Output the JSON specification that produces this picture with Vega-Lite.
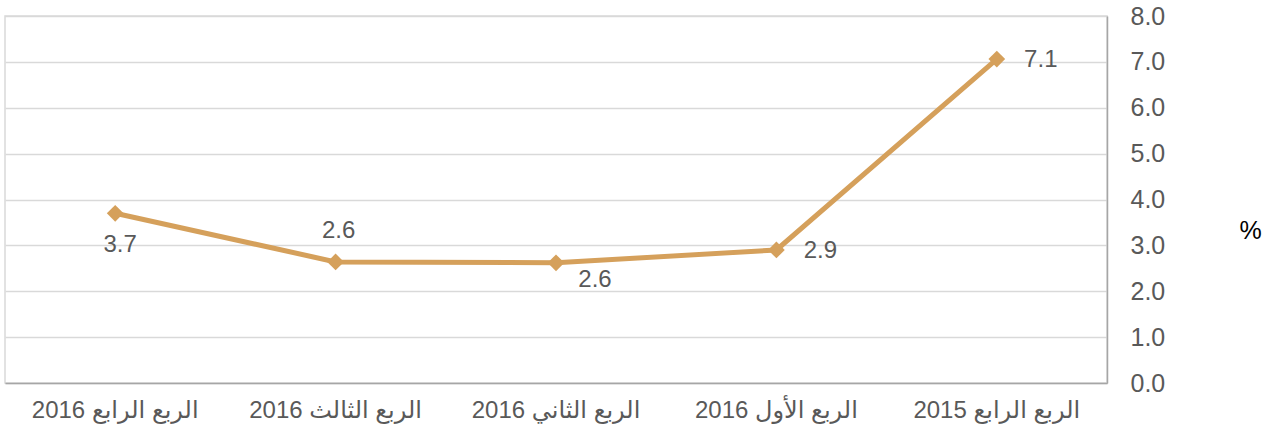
{
  "$schema": "https://vega.github.io/schema/vega-lite/v6.json",
  "autosize": {"type": "none"},
  "width": 1102,
  "height": 367,
  "padding": {"left": 5, "top": 16, "right": 165, "bottom": 55},
  "background": "white",
  "config": {
    "view": {"stroke": "#d9d9d9", "strokeWidth": 1.5},
    "axis": {"grid": false}
  },
  "data": {
    "values": [
      {"quarter": "الربع الرابع 2015", "value": 7.06, "label": "7.1"},
      {"quarter": "الربع الأول 2016", "value": 2.9, "label": "2.9"},
      {"quarter": "الربع الثاني 2016", "value": 2.62, "label": "2.6"},
      {"quarter": "الربع الثالث 2016", "value": 2.64, "label": "2.6"},
      {"quarter": "الربع الرابع 2016", "value": 3.7, "label": "3.7"}
    ]
  },
  "encoding": {
    "x": {
      "field": "quarter",
      "type": "nominal",
      "sort": ["الربع الرابع 2016", "الربع الثالث 2016", "الربع الثاني 2016", "الربع الأول 2016", "الربع الرابع 2015"],
      "scale": {"type": "band", "paddingInner": 0, "paddingOuter": 0},
      "axis": {
        "title": null,
        "labelAngle": 0,
        "labelFont": "Liberation Sans, DejaVu Sans",
        "labelFontSize": 24,
        "labelColor": "#595959",
        "labelPadding": 15,
        "ticks": false,
        "domainColor": "#a6a6a6",
        "domainWidth": 1.5
      }
    },
    "y": {
      "field": "value",
      "type": "quantitative",
      "scale": {"domain": [0, 8], "nice": false},
      "axis": {
        "orient": "right",
        "values": [0, 1, 2, 3, 4, 5, 6, 7, 8],
        "format": ".1f",
        "grid": true,
        "gridColor": "#d9d9d9",
        "gridWidth": 1.5,
        "ticks": false,
        "domainColor": "#a6a6a6",
        "domainWidth": 1.5,
        "labelFont": "Liberation Sans",
        "labelFontSize": 25,
        "labelColor": "#595959",
        "labelPadding": 23,
        "labelAlign": "left",
        "title": "%",
        "titleFont": "Liberation Sans",
        "titleFontSize": 25,
        "titleFontWeight": "normal",
        "titleColor": "#000000",
        "titleAngle": 0,
        "titleAlign": "center",
        "titleBaseline": "middle",
        "titleX": 143,
        "titleY": 214
      }
    }
  },
  "layer": [
    {
      "mark": {"type": "line", "color": "#D5A05B", "strokeWidth": 5},
      "encoding": {}
    },
    {
      "mark": {"type": "point", "shape": "diamond", "filled": true, "color": "#D5A05B", "size": 280, "opacity": 1},
      "encoding": {}
    },
    {
      "transform": [{"filter": "datum.quarter === 'الربع الرابع 2016'"}],
      "mark": {"type": "text", "font": "Liberation Sans", "fontSize": 24, "color": "#595959", "dx": 5, "dy": 32},
      "encoding": {"text": {"field": "label"}}
    },
    {
      "transform": [{"filter": "datum.quarter === 'الربع الثالث 2016'"}],
      "mark": {"type": "text", "font": "Liberation Sans", "fontSize": 24, "color": "#595959", "dx": 3, "dy": -31},
      "encoding": {"text": {"field": "label"}}
    },
    {
      "transform": [{"filter": "datum.quarter === 'الربع الثاني 2016'"}],
      "mark": {"type": "text", "font": "Liberation Sans", "fontSize": 24, "color": "#595959", "dx": 39, "dy": 17},
      "encoding": {"text": {"field": "label"}}
    },
    {
      "transform": [{"filter": "datum.quarter === 'الربع الأول 2016' || datum.quarter === 'الربع الرابع 2015'"}],
      "mark": {"type": "text", "font": "Liberation Sans", "fontSize": 24, "color": "#595959", "dx": 44, "dy": 1},
      "encoding": {"text": {"field": "label"}}
    }
  ]
}
